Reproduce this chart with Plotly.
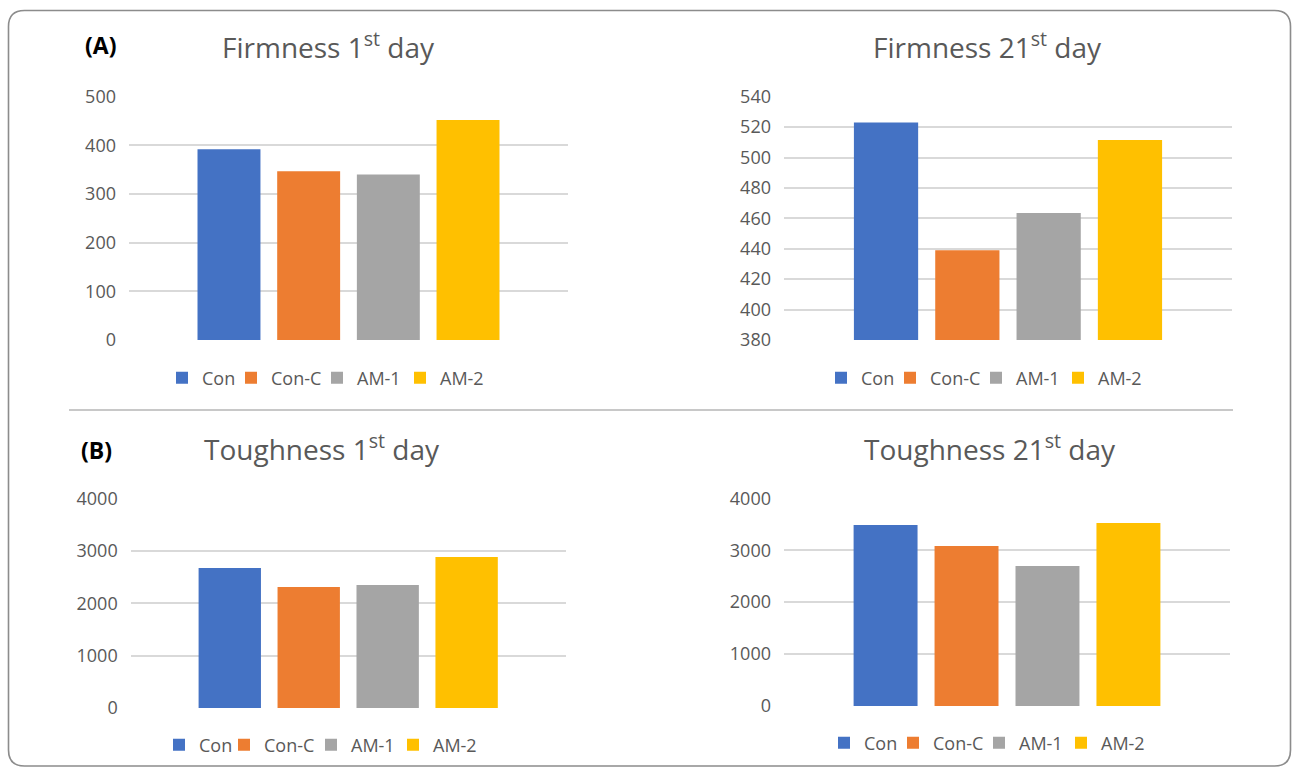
import plotly.graph_objects as go

series = ["Con", "Con-C", "AM-1", "AM-2"]
colors = ["#4472C4", "#ED7D31", "#A5A5A5", "#FFC000"]

firmness_day1 = [392, 347, 340, 452]
firmness_day21 = [523, 439, 463.5, 511.5]
toughness_day1 = [2675, 2312, 2351, 2886]
toughness_day21 = [3486, 3082, 2696, 3525]

titles = ["Firmness 1<sup>st</sup> day", "Firmness 21<sup>st</sup> day",
          "Toughness 1<sup>st</sup> day", "Toughness 21<sup>st</sup> day"]
panel_labels = ["(A)", "(B)"]

W, H = 1292, 768
FONT = "Open Sans"
GREY = "#595959"

def px_x(p):
    return p / W

def px_y(p):
    return 1 - p / H

# layout (pixel positions): plot boxes, titles, legend text starts
panels = [
    dict(vals=firmness_day1, x=(129, 568), y=(96.7, 340), rng=[0, 500], dt=100,
         title_xy=(328, 45), leg_y=378, leg_text_x=[198, 267, 353, 436]),
    dict(vals=firmness_day21, x=(784, 1232), y=(96.7, 340), rng=[380, 540], dt=20,
         title_xy=(988, 45), leg_y=378, leg_text_x=[857, 926, 1012, 1094]),
    dict(vals=toughness_day1, x=(130.7, 565.7), y=(498.7, 708), rng=[0, 4000], dt=1000,
         title_xy=(322, 447), leg_y=745, leg_text_x=[195, 260, 347, 429]),
    dict(vals=toughness_day21, x=(784, 1230), y=(498.3, 706), rng=[0, 4000], dt=1000,
         title_xy=(990, 447), leg_y=743, leg_text_x=[860, 929, 1015, 1097]),
]

fig = go.Figure()
layout = {}
annotations = []
leg_count = 0
for i, p in enumerate(panels):
    n = "" if i == 0 else str(i + 1)
    for j, (s, c, v) in enumerate(zip(series, colors, p["vals"])):
        leg_count += 1
        leg = "legend" if leg_count == 1 else f"legend{leg_count}"
        fig.add_trace(go.Bar(x=[""], y=[v], name=s, marker=dict(color=c, line=dict(width=0)),
                             xaxis="x" + n, yaxis="y" + n, legend=leg, showlegend=True,
                             hoverinfo="y+name"))
        origin = p["leg_text_x"][j] + 4 - 40
        layout[leg] = dict(orientation="h", x=px_x(origin), y=px_y(p["leg_y"]),
                           xanchor="left", yanchor="middle", bgcolor="rgba(0,0,0,0)",
                           font=dict(family=FONT, size=18, color=GREY), itemwidth=30,
                           borderwidth=0, visible=True)
    layout["xaxis" + n] = dict(domain=[px_x(p["x"][0]), px_x(p["x"][1])], anchor="y" + n,
                               showticklabels=False, showgrid=False, zeroline=False,
                               showline=False, fixedrange=True, automargin=False)
    layout["yaxis" + n] = dict(domain=[px_y(p["y"][1]), px_y(p["y"][0])], anchor="x" + n,
                               range=p["rng"], dtick=p["dt"], tick0=0, showgrid=True,
                               gridcolor="#D9D9D9", gridwidth=1.5, zeroline=False,
                               showline=False, ticks="", ticklabelstandoff=12,
                               automargin=False,
                               tickfont=dict(family=FONT, size=18, color=GREY))
    annotations.append(dict(text=titles[i], x=px_x(p["title_xy"][0]), y=px_y(p["title_xy"][1]),
                            xref="paper", yref="paper", showarrow=False, xanchor="center",
                            yanchor="middle", font=dict(family=FONT, size=28, color=GREY)))

annotations.append(dict(text="<b>" + panel_labels[0] + "</b>", x=px_x(100), y=px_y(45),
                        xref="paper", yref="paper", showarrow=False, xanchor="center",
                        yanchor="middle", font=dict(family=FONT, size=23, color="black")))
annotations.append(dict(text="<b>" + panel_labels[1] + "</b>", x=px_x(96), y=px_y(450),
                        xref="paper", yref="paper", showarrow=False, xanchor="center",
                        yanchor="middle", font=dict(family=FONT, size=23, color="black")))

# rounded outer border
x0, x1, y0, y1 = 8.5, 1290.5, 10.5, 766
r = 16
def P(x, y):
    return f"{px_x(x):.5f},{px_y(y):.5f}"
path = (f"M {P(x0 + r, y0)} L {P(x1 - r, y0)} Q {P(x1, y0)} {P(x1, y0 + r)} "
        f"L {P(x1, y1 - r)} Q {P(x1, y1)} {P(x1 - r, y1)} L {P(x0 + r, y1)} "
        f"Q {P(x0, y1)} {P(x0, y1 - r)} L {P(x0, y0 + r)} Q {P(x0, y0)} {P(x0 + r, y0)} Z")
shapes = [
    dict(type="path", path=path, xref="paper", yref="paper",
         line=dict(color="#8C8C8C", width=1.6), fillcolor="rgba(0,0,0,0)", layer="above"),
    dict(type="line", x0=px_x(69), x1=px_x(1233), y0=px_y(410), y1=px_y(410),
         xref="paper", yref="paper", line=dict(color="#C8C8C8", width=2)),
]

fig.update_layout(**layout)
fig.update_layout(width=W, height=H, margin=dict(l=0, r=0, t=0, b=0, pad=0, autoexpand=False),
                  paper_bgcolor="white", plot_bgcolor="white", showlegend=True,
                  barmode="group", bargap=0.274, bargroupgap=0.21,
                  annotations=annotations, shapes=shapes,
                  font=dict(family=FONT, color=GREY))

fig.write_html("out.html", config={"displayModeBar": False},
               post_script="document.body.style.margin='0';")
